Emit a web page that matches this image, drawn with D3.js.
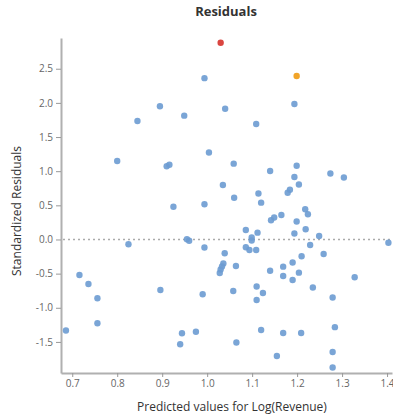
<!DOCTYPE html>
<html>
<head>
<meta charset="utf-8">
<script src="https://cdn.jsdelivr.net/npm/d3@7"></script>
<style>
  html, body { margin: 0; padding: 0; background: #fff; }
  svg { display: block; overflow: hidden; }
  text { font-family: "Open Sans", "Noto Sans", sans-serif; }
</style>
</head>
<body>
<div id="chart"></div>
<script>
// Predicted values (x) and standardized residuals (y)
const predicted = [
  1.030, 1.199, 0.994, 0.895, 1.040, 0.949, 1.194, 0.845, 1.109, 1.004,
  0.800, 0.910, 0.916, 0.925, 0.994, 1.035, 1.059, 1.199, 1.140, 1.274,
  1.304, 1.194, 1.204, 1.114, 1.184, 1.179, 1.060, 1.120, 1.218, 1.224,
  1.165, 1.149, 1.142, 1.199, 1.086, 1.112, 1.194, 1.219, 1.249, 1.099,
  1.099, 0.955, 0.960, 1.403, 0.825, 0.994, 1.086, 1.094, 1.109, 1.229,
  1.039, 1.259, 1.210, 1.036, 1.033, 1.030, 1.028, 1.064, 1.140, 1.169,
  1.190, 1.169, 1.190, 1.204, 1.328, 1.235, 0.990, 1.058, 1.110, 1.124,
  1.110, 1.279, 0.716, 0.736, 0.756, 0.896, 0.756, 0.686, 0.975, 0.944,
  0.940, 1.065, 1.120, 1.169, 1.209, 1.284, 1.155, 1.279, 1.279
];
const residuals = [
  2.881, 2.394, 2.362, 1.950, 1.915, 1.813, 1.984, 1.735, 1.691, 1.274,
  1.149, 1.073, 1.095, 0.480, 0.515, 0.798, 1.110, 1.079, 1.003, 0.966,
  0.908, 0.915, 0.805, 0.673, 0.728, 0.684, 0.612, 0.539, 0.442, 0.370,
  0.359, 0.322, 0.281, 0.264, 0.139, 0.100, 0.088, 0.149, 0.051, 0.029,
  -0.015, 0.003, -0.019, -0.047, -0.070, -0.117, -0.114, -0.154, -0.154, -0.081,
  -0.202, -0.212, -0.245, -0.351, -0.395, -0.439, -0.490, -0.388, -0.457, -0.398,
  -0.337, -0.534, -0.593, -0.486, -0.553, -0.703, -0.802, -0.754, -0.688, -0.783,
  -0.886, -0.849, -0.520, -0.652, -0.861, -0.739, -1.227, -1.332, -1.350, -1.373,
  -1.534, -1.508, -1.325, -1.369, -1.369, -1.284, -1.706, -1.647, -1.874
];
// highlight group per point: 0 normal, 1 largest residual, 2 second largest
const highlight = predicted.map((d, i) => i === 0 ? 1 : (i === 1 ? 2 : 0));
const xTicks = [0.7, 0.8, 0.9, 1.0, 1.1, 1.2, 1.3, 1.4];
const yTicks = [-1.5, -1.0, -0.5, 0.0, 0.5, 1.0, 1.5, 2.0, 2.5];
const xDomain = [0.675, 1.411];
const yDomain = [-1.955, 2.95];
const pointColors = ["#6b9bd2", "#d6312b", "#ef9a12"];

const W = 393, H = 415;
const svg = d3.select("#chart").append("svg").attr("width", W).attr("height", H);

const x = d3.scaleLinear().domain(xDomain).range([61, 392]);
const y = d3.scaleLinear().domain(yDomain).range([373, 38]);

// title
svg.append("text").attr("x", 226).attr("y", 16).attr("text-anchor", "middle")
  .attr("font-size", 13).attr("font-weight", "bold").attr("fill", "#333").text("Residuals");

// zero reference line
svg.append("line").attr("x1", x(xDomain[0]) + 2).attr("x2", 392)
  .attr("y1", y(0)).attr("y2", y(0))
  .attr("stroke", "#aaa").attr("stroke-width", 1.5).attr("stroke-dasharray", "2,3");

// axes
const yAxis = svg.append("g").attr("transform", "translate(61,0)")
  .call(d3.axisLeft(y).tickValues(yTicks).tickFormat(d => d.toFixed(1)).tickSize(5).tickSizeOuter(0).tickPadding(3));
const xAxis = svg.append("g").attr("transform", "translate(0,373)")
  .call(d3.axisBottom(x).tickValues(xTicks).tickFormat(d => d.toFixed(1)).tickSize(4).tickSizeOuter(0).tickPadding(3));
[yAxis, xAxis].forEach(g => {
  g.select(".domain").attr("stroke", "#b0b0b0").attr("stroke-width", 2);
  g.selectAll(".tick line").attr("stroke", "#999");
  g.selectAll(".tick text").attr("fill", "#666").attr("font-size", 10);
});

// points
const data = predicted.map((p, i) => ({ p, r: residuals[i], h: highlight[i] }));
data.sort((a, b) => a.h - b.h);
svg.append("g").selectAll("circle").data(data).join("circle")
  .attr("cx", d => x(d.p)).attr("cy", d => y(d.r)).attr("r", 3.2)
  .attr("fill", d => pointColors[d.h]).attr("fill-opacity", 0.9);

// axis labels
svg.append("text").attr("x", 232).attr("y", 411).attr("text-anchor", "middle")
  .attr("font-size", 12).attr("fill", "#333").text("Predicted values for Log(Revenue)");
svg.append("text").attr("transform", "translate(21,211) rotate(-90)").attr("text-anchor", "middle")
  .attr("font-size", 12).attr("fill", "#333").text("Standardized Residuals");
</script>
</body>
</html>
